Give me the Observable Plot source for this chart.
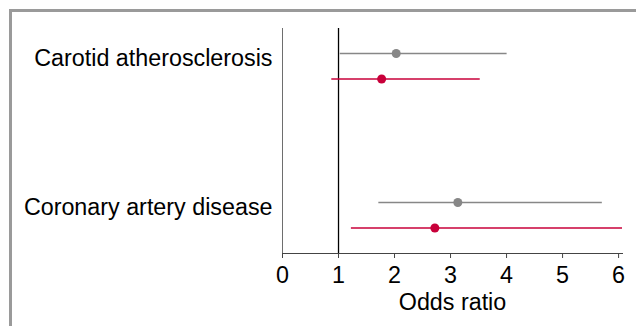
<!DOCTYPE html>
<html>
<head>
<meta charset="utf-8">
<script src="https://cdn.jsdelivr.net/npm/d3@7"></script>
<script src="https://cdn.jsdelivr.net/npm/@observablehq/plot@0.6"></script>
<style>
  html, body { margin: 0; padding: 0; background: #fff; }
  #wrap { position: relative; width: 636px; height: 326px; overflow: hidden; }
  #frame { position: absolute; left: 9px; top: 9px; width: 700px; height: 400px;
           border-left: 3px solid #9a9a9a; border-top: 3px solid #9a9a9a; pointer-events: none; }
</style>
</head>
<body>
<div id="wrap"><div id="chart"></div><div id="frame"></div></div>
<script>
// Categories and series
const diseases = ["Carotid atherosclerosis", "Coronary artery disease"];
const models = ["Model 1", "Model 2"];           // gray, red
const oddsRatio = [[2.03, 1.77], [3.13, 2.72]];  // [disease][model]
const ciLow     = [[1.03, 0.88], [1.72, 1.23]];
const ciHigh    = [[4.01, 3.53], [5.71, 6.60]];
const xTicks = [0, 1, 2, 3, 4, 5, 6];
const xDomain = [0, 6.07];
const refLine = [1];
const colors = ["#878787", "#c8003a"];
const offsets = [-13, 12.5];

const rows = [];
diseases.forEach((d, i) => models.forEach((m, j) => rows.push({
  disease: d, model: m, or: oddsRatio[i][j], lo: ciLow[i][j], hi: ciHigh[i][j]
})));

const font = "'Liberation Sans', Helvetica, Arial, sans-serif";
const fs = 23.3;
const marks = [
  Plot.frame({anchor: "left", stroke: "#6e6e6e"}),
  Plot.frame({anchor: "bottom", stroke: "#444"}),
  Plot.ruleX(refLine, {stroke: "#000", strokeWidth: 1.3}),
  Plot.axisX({ticks: xTicks, tickFormat: d3.format("d"), tickSize: 5, tickPadding: 8, fontSize: fs, stroke: "#444",
              label: "Odds ratio", labelAnchor: "center", labelOffset: 56, labelArrow: "none", color: "#000"}),
  Plot.axisY({tickSize: 0, tickPadding: 10, fontSize: fs, dy: -8, label: null, color: "#000"})
];
models.forEach((m, j) => {
  const sub = rows.filter(r => r.model === m);
  marks.push(Plot.ruleY(sub, {y: "disease", x1: "lo", x2: "hi", dy: offsets[j], stroke: colors[j], strokeWidth: 1.5, clip: true}));
  marks.push(Plot.dot(sub, {y: "disease", x: "or", dy: offsets[j], r: 4.5, fill: colors[j], stroke: "none", clip: true}));
});

const chart = Plot.plot({
  width: 636,
  height: 326,
  marginLeft: 282,
  marginRight: 14,
  marginTop: 28,
  marginBottom: 73,
  style: {fontFamily: font, fontSize: fs + "px", color: "#000", background: "transparent", overflow: "visible"},
  x: {domain: xDomain},
  y: {type: "point", domain: diseases, padding: 0.252},
  marks
});
document.getElementById("chart").appendChild(chart);
</script>
</body>
</html>
